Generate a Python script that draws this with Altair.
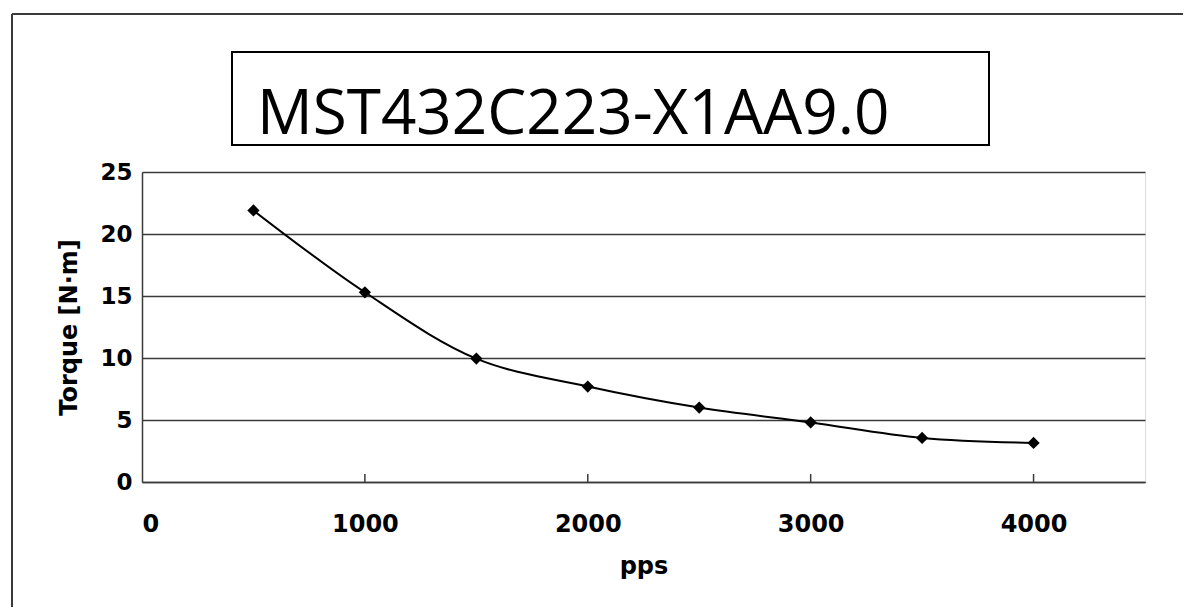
import altair as alt
import pandas as pd

# ---- data ----
pps = [500, 1000, 1500, 2000, 2500, 3000, 3500, 4000]
torque = [21.9, 15.3, 9.95, 7.7, 6.0, 4.8, 3.55, 3.15]
x_ticks = [0, 1000, 2000, 3000, 4000]
x_inner_ticks = [1000, 2000, 3000, 4000]
y_ticks = [0, 5, 10, 15, 20, 25]
title_text = "MST432C223-X1AA9.0"
x_title = "pps"
y_title = "Torque [N·m]"

W, H = 1003, 310
LINE = "#3a3a3a"
LABEL_FONT = "DejaVu Sans"

df = pd.DataFrame({"pps": pps, "torque": torque})
ticks_df = pd.DataFrame({"pps": x_inner_ticks})
title_df = pd.DataFrame({"t": [title_text]})

xscale = alt.Scale(domain=[0, 4500], nice=False, zero=True)
yscale = alt.Scale(domain=[0, 25], nice=False)

xaxis = alt.Axis(
    values=x_ticks, ticks=False, grid=False, format="d",
    labelFont=LABEL_FONT, labelFontWeight="bold", labelFontSize=24, labelColor="black",
    labelPadding=30, title=x_title, titleFont=LABEL_FONT, titleFontWeight="bold",
    titleFontSize=24, titleColor="black", titlePadding=18,
    domainColor=LINE, domainWidth=1.5,
)
yaxis = alt.Axis(
    values=y_ticks, ticks=False, grid=True, gridColor=LINE, gridWidth=1.5,
    labelFont=LABEL_FONT, labelFontWeight="bold", labelFontSize=23, labelColor="black",
    labelPadding=10, title=y_title, titleFont=LABEL_FONT, titleFontWeight="bold",
    titleFontSize=24, titleColor="black", titlePadding=18,
    domainColor=LINE, domainWidth=1.5,
)

line = alt.Chart(df).mark_line(color="black", strokeWidth=2, interpolate="catmull-rom").encode(
    x=alt.X("pps:Q", scale=xscale, axis=xaxis),
    y=alt.Y("torque:Q", scale=yscale, axis=yaxis),
)
points = alt.Chart(df).mark_point(shape="diamond", filled=True, color="black", size=150, opacity=1).encode(
    x=alt.X("pps:Q", scale=xscale),
    y=alt.Y("torque:Q", scale=yscale),
)
inner_ticks = alt.Chart(ticks_df).mark_rule(color=LINE, strokeWidth=1.5).encode(
    x=alt.X("pps:Q", scale=xscale),
    y=alt.value(H),
    y2=alt.value(H - 8),
)
frame_top = alt.Chart(title_df).mark_rule(color=LINE, strokeWidth=2).encode(
    x=alt.value(-130), x2=alt.value(1300), y=alt.value(-158)
)
frame_left = alt.Chart(title_df).mark_rule(color=LINE, strokeWidth=2).encode(
    x=alt.value(-130), y=alt.value(-158), y2=alt.value(700)
)
title_box = alt.Chart(title_df).mark_rect(fill="white", stroke="black", strokeWidth=2).encode(
    x=alt.value(90), x2=alt.value(847), y=alt.value(-120), y2=alt.value(-27)
)
title_mark = alt.Chart(title_df).mark_text(
    align="left", baseline="alphabetic", font="Open Sans", fontSize=62, color="black"
).encode(text="t:N", x=alt.value(115), y=alt.value(-38))

chart = alt.layer(frame_top, frame_left, title_box, title_mark, inner_ticks, line, points).properties(
    width=W, height=H,
    padding={"left": 134, "top": 164, "right": 38, "bottom": 125},
    autosize=alt.AutoSizeParams(type="none"),
).configure_view(stroke=LINE, strokeWidth=1.5).configure(background="white")

chart.save("out.html", embed_options={"renderer": "svg", "actions": False})
